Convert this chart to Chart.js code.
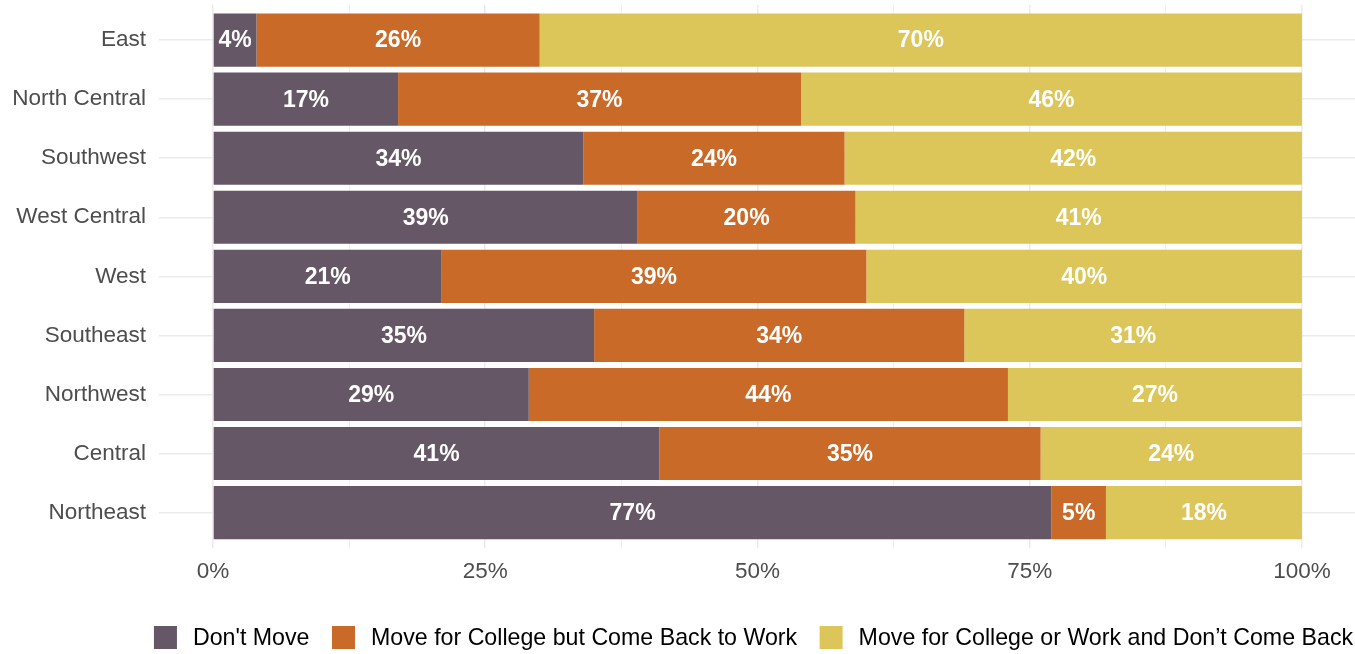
<!DOCTYPE html>
<html>
<head>
<meta charset="utf-8">
<script src="https://cdn.jsdelivr.net/npm/chart.js@4"></script>
<style>
  html, body { margin: 0; padding: 0; background: #fff; }
  #wrap { width: 1355px; height: 654px; }
</style>
</head>
<body>
<div id="wrap"><canvas id="moveChart"></canvas></div>
<script>
const regions = ["East", "North Central", "Southwest", "West Central", "West", "Southeast", "Northwest", "Central", "Northeast"];
const dontMove = [4, 17, 34, 39, 21, 35, 29, 41, 77];
const comeBack = [26, 37, 24, 20, 39, 34, 44, 35, 5];
const leaveForGood = [70, 46, 42, 41, 40, 31, 27, 24, 18];
const seriesNames = ["Don't Move", "Move for College but Come Back to Work", "Move for College or Work and Don\u2019t Come Back"];
const pctTicks = [0, 12.5, 25, 37.5, 50, 62.5, 75, 87.5, 100];

const colors = ["#655766", "#C96A29", "#DCC65A"];
const FONT = "'Liberation Sans', Arial, sans-serif";

function toPoints(values) {
  return values.map((v, i) => ({ x: v, y: i }));
}

/* white % labels in the middle of each segment */
const segmentLabels = {
  id: "segmentLabels",
  afterDatasetsDraw(chart) {
    const ctx = chart.ctx;
    ctx.save();
    ctx.font = "bold 23px " + FONT;
    ctx.fillStyle = "#fff";
    ctx.textAlign = "center";
    ctx.textBaseline = "middle";
    chart.data.datasets.forEach((ds, di) => {
      chart.getDatasetMeta(di).data.forEach((bar, i) => {
        const p = bar.getProps(["x", "base", "y"], true);
        ctx.fillText(ds.data[i].x + "%", (p.x + p.base) / 2, p.y + 1);
      });
    });
    ctx.restore();
  }
};

/* ggplot-like legend under the axis */
const bottomLegend = {
  id: "bottomLegend",
  afterDraw(chart) {
    const ctx = chart.ctx;
    const box = 23, gap = 16, spacing = 22.5;
    ctx.save();
    ctx.font = "23.2px " + FONT;
    ctx.textBaseline = "middle";
    const items = chart.data.datasets.map(ds => ({ label: ds.label, color: ds.backgroundColor, w: ctx.measureText(ds.label).width }));
    const total = items.reduce((s, it) => s + box + gap + it.w, 0) + spacing * (items.length - 1);
    let x = 753.5 - total / 2;
    const cy = 637.5;
    items.forEach(it => {
      ctx.fillStyle = it.color;
      ctx.fillRect(x, cy - box / 2, box, box);
      ctx.fillStyle = "#000";
      ctx.fillText(it.label, x + box + gap, cy + 1);
      x += box + gap + it.w + spacing;
    });
    ctx.restore();
  }
};

new Chart(document.getElementById("moveChart"), {
  type: "bar",
  data: {
    datasets: [
      { label: seriesNames[0], data: toPoints(dontMove), backgroundColor: colors[0] },
      { label: seriesNames[1], data: toPoints(comeBack), backgroundColor: colors[1] },
      { label: seriesNames[2], data: toPoints(leaveForGood), backgroundColor: colors[2] }
    ]
  },
  options: {
    indexAxis: "y",
    responsive: true,
    maintainAspectRatio: false,
    animation: false,
    categoryPercentage: 1,
    barPercentage: 0.9,
    layout: { padding: { top: 4.7, right: 0, bottom: 59, left: 0 } },
    plugins: { legend: { display: false }, tooltip: { enabled: false } },
    scales: {
      x: {
        type: "linear",
        stacked: true,
        min: -5,
        max: 104.87,
        afterBuildTicks: s => { s.ticks = pctTicks.map(v => ({ value: v })); },
        afterFit: s => { s.paddingLeft = 0; s.paddingRight = 0; },
        border: { display: false },
        grid: {
          color: "#EBEBEB",
          lineWidth: c => (c.tick && c.tick.value % 25 === 0 ? 1.5 : 0.75),
          drawTicks: false
        },
        ticks: {
          autoSkip: false,
          maxRotation: 0,
          padding: 10,
          color: "#4D4D4D",
          font: { family: FONT, size: 22.5 },
          callback: v => (v % 25 === 0 ? v + "%" : "")
        }
      },
      y: {
        type: "linear",
        stacked: true,
        reverse: true,
        offset: false,
        min: -0.6,
        max: 8.6,
        afterBuildTicks: s => { s.ticks = regions.map((_, i) => ({ value: i })); },
        afterFit: s => { s.width = 158.5; s.paddingTop = 0; s.paddingBottom = 0; },
        border: { display: false },
        grid: { offset: false, color: "#EBEBEB", lineWidth: 1.5, drawTicks: false },
        ticks: {
          autoSkip: false,
          padding: 12.5,
          color: "#4D4D4D",
          font: { family: FONT, size: 22.5 },
          callback: v => regions[v]
        }
      }
    }
  },
  plugins: [segmentLabels, bottomLegend]
});
</script>
</body>
</html>
